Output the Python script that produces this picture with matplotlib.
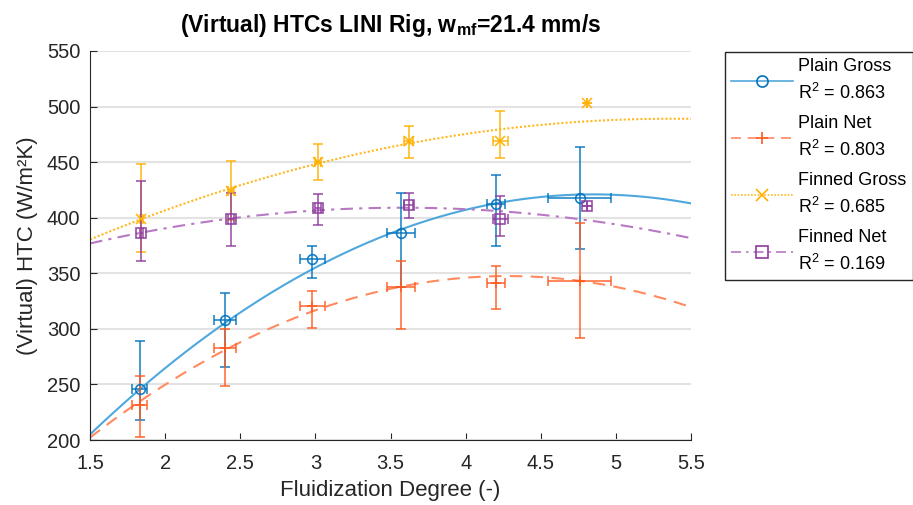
import numpy as np
import matplotlib
matplotlib.use('Agg')
import matplotlib.pyplot as plt
from matplotlib.lines import Line2D

plt.rcParams['font.family'] = ['Liberation Sans', 'DejaVu Sans']
plt.rcParams['mathtext.default'] = 'regular'

# fluidization degree (x) and HTC (y) per series, error bounds
x_plain = [1.83, 2.40, 2.98, 3.57, 4.20, 4.76]
xerr_plain = [0.05, 0.075, 0.083, 0.09, 0.06, 0.21]
x_finned = [1.84, 2.44, 3.02, 3.62, 4.23, 4.81]
xerr_finned = [0.01, 0.02, 0.02, 0.03, 0.05, 0.0]

y_plain_gross = [246, 308, 363, 386.6, 412.4, 418]
lo_plain_gross = [218, 266, 346, 338, 374.6, 372]
hi_plain_gross = [289, 332, 374.6, 422.6, 438.5, 464]

y_plain_net = [231.5, 282.5, 321, 338, 341.6, 343]
lo_plain_net = [203, 249, 300.5, 300.2, 318, 291.5]
hi_plain_net = [258, 299.6, 334, 361.4, 357, 395.6]

y_finned_gross = [398.6, 424.4, 450.5, 469, 469.4, 503]
lo_finned_gross = [369.5, 398, 434, 453.8, 453.8, 503]
hi_finned_gross = [448.4, 451, 466.4, 482.6, 495.8, 503]

y_finned_net = [386.6, 398.4, 409, 411.5, 399, 410.6]
lo_finned_net = [361.4, 374.6, 393.5, 400, 383.6, 410.6]
hi_finned_net = [433, 422, 421, 422.6, 419.6, 410.6]

# quadratic fits, vertex form (x_peak, y_peak, curvature)
fit_plain_gross = (4.85, 421, -19.25)
fit_plain_net = (4.28, 347.5, -18.8)
fit_finned_gross = (5.38, 489.1, -7.22)
fit_finned_net = (3.58, 409, -7.43)

r2 = ['0.863', '0.803', '0.685', '0.169']
names = ['Plain Gross', 'Plain Net', 'Finned Gross', 'Finned Net']

series = [
    (x_plain, xerr_plain, y_plain_gross, lo_plain_gross, hi_plain_gross, fit_plain_gross,
     '#0072BD', '#4FA8DC', '-', 'o'),
    (x_plain, xerr_plain, y_plain_net, lo_plain_net, hi_plain_net, fit_plain_net,
     '#FF5A1E', '#FF8A60', (0, (6, 4)), '+'),
    (x_finned, xerr_finned, y_finned_gross, lo_finned_gross, hi_finned_gross, fit_finned_gross,
     '#FFB000', '#FFB820', (0, (1, 1)), 'x'),
    (x_finned, xerr_finned, y_finned_net, lo_finned_net, hi_finned_net, fit_finned_net,
     '#8E3A9E', '#B878C4', (0, (6, 3, 1.5, 3)), 's'),
]

fig = plt.figure(figsize=(9.13, 5.05), dpi=100)
ax = fig.add_axes([90/913, 65/505, 601/913, 389/505])

xf = np.linspace(1.5, 5.5, 300)
handles = []
for x, xe, y, lo, hi, fit, c, cfit, ls, mk in series:
    y = np.array(y)
    yerr = [y - np.array(lo), np.array(hi) - y]
    ax.errorbar(x, y, yerr=yerr, xerr=xe, fmt='none', ecolor=c, elinewidth=1.2,
                capsize=3.5, capthick=1.2, alpha=0.85, zorder=3)
    ax.plot(x, y, linestyle='none', marker=mk, markersize=7, markerfacecolor='none',
            markeredgecolor=c, markeredgewidth=1.2, alpha=0.9, zorder=4)
    h, k, a = fit
    ax.plot(xf, k + a*(xf - h)**2, color=cfit, linestyle=ls, linewidth=1.5, zorder=2)
    handles.append(Line2D([], [], color=cfit, linestyle=ls, linewidth=1.2, marker=mk,
                          markersize=8, markerfacecolor='none', markeredgecolor=c,
                          markeredgewidth=1.2))

ax.set_xlim(1.5, 5.5)
ax.set_ylim(200, 550)
ax.set_xticks(np.arange(1.5, 5.6, 0.5))
ax.set_yticks(np.arange(200, 551, 50))
ax.set_xticklabels(['1.5', '2', '2.5', '3', '3.5', '4', '4.5', '5', '5.5'])
ax.yaxis.grid(True, color='#E3E3E3', linewidth=1.5)
ax.set_axisbelow(True)
for s in ['top', 'right']:
    ax.spines[s].set_visible(False)
for s in ['left', 'bottom']:
    ax.spines[s].set_color('#262626')
ax.tick_params(direction='in', length=5, colors='#262626', labelsize=14.5)
ax.tick_params(axis='x', pad=10)
ax.tick_params(axis='y', pad=7)

ax.set_xlabel('Fluidization Degree (-)', fontsize=16, color='#262626', labelpad=5)
ax.set_ylabel('(Virtual) HTC (W/m²K)', fontsize=16, color='#262626', labelpad=6)
ax.set_title('(Virtual) HTCs LINI Rig, w$_{mf}$=21.4 mm/s', fontsize=16.5, fontweight='bold', pad=14)

labels = [f'{n}\nR$^2$ = {r}' for n, r in zip(names, r2)]
leg = fig.legend(handles, labels, loc='upper left', bbox_to_anchor=(725/913, 1 - 52/505),
                 bbox_transform=fig.transFigure, fontsize=13, fancybox=False,
                 edgecolor='#262626', framealpha=1, handlelength=3.4, handletextpad=0.3,
                 borderpad=0.35, borderaxespad=0, labelspacing=0.7)
leg.get_frame().set_linewidth(1.0)
for t in leg.get_texts():
    t.set_linespacing(1.45)

fig.savefig('out.png', dpi=100)
